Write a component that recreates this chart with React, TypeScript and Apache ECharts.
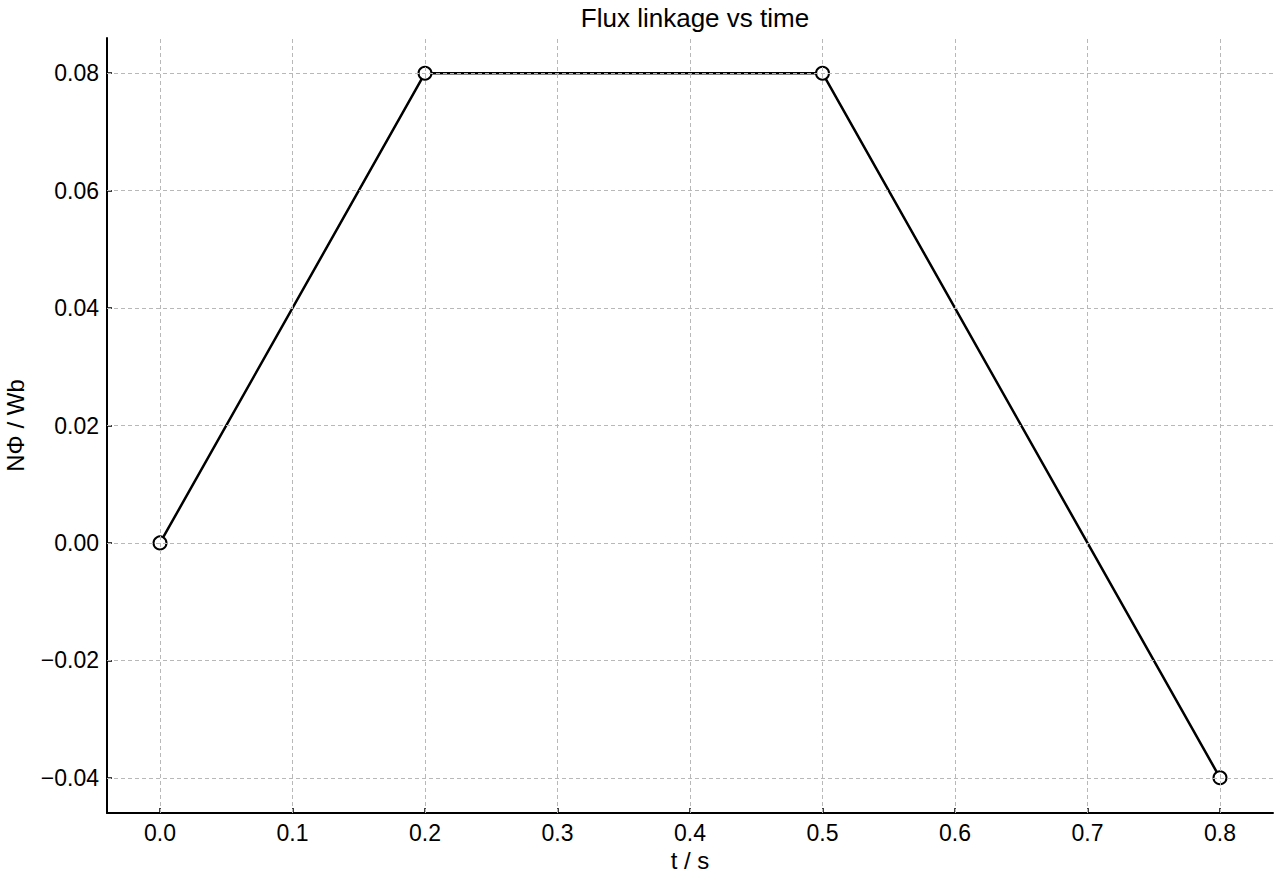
import React, { useEffect, useRef } from "react";
import * as echarts from "echarts";

const timeValues = [0.0, 0.2, 0.5, 0.8];
const fluxValues = [0.0, 0.08, 0.08, -0.04];
const xTicks = [0.0, 0.1, 0.2, 0.3, 0.4, 0.5, 0.6, 0.7, 0.8];
const yTicks = [-0.04, -0.02, 0.0, 0.02, 0.04, 0.06, 0.08];
const xRange = [-0.04, 0.84];
const yRange = [-0.046, 0.086];

const FONT = "Liberation Sans, Arial, Helvetica, sans-serif";

export default function App() {
  const ref = useRef<HTMLDivElement>(null);
  useEffect(() => {
    document.body.style.margin = "0";
    if (!ref.current) return;
    const chart = echarts.init(ref.current, undefined, { renderer: "svg" });
    const gridStyle = { color: "#b8b8b8", width: 1, type: [4, 3] as any };
    chart.setOption({
      animation: false,
      backgroundColor: "#ffffff",
      textStyle: { fontFamily: FONT },
      title: {
        text: "Flux linkage vs time",
        left: 690,
        top: 0,
        textAlign: "center",
        textStyle: { fontFamily: FONT, fontSize: 26, fontWeight: "normal", color: "#000" },
      },
      grid: { left: 107, right: 7, top: 38, bottom: 67, containLabel: false, outerBoundsMode: "none" },
      xAxis: {
        type: "value",
        min: xRange[0],
        max: xRange[1],
        name: "t / s",
        nameLocation: "middle",
        nameGap: 32,
        nameTextStyle: { fontFamily: FONT, fontSize: 24, color: "#000" },
        axisLine: { show: true, onZero: false, lineStyle: { color: "#000", width: 2 } },
        axisTick: { show: true, inside: true, length: 5, customValues: xTicks, lineStyle: { color: "#000", width: 1.5 } },
        axisLabel: {
          customValues: xTicks,
          margin: 8,
          fontFamily: FONT,
          fontSize: 23,
          color: "#000",
          formatter: (v: number) => v.toFixed(1),
        },
        splitLine: { show: false },
      },
      yAxis: {
        type: "value",
        min: yRange[0],
        max: yRange[1],
        name: "NΦ / Wb",
        nameLocation: "middle",
        nameGap: 80,
        nameRotate: 90,
        nameTextStyle: { fontFamily: FONT, fontSize: 24, color: "#000" },
        axisLine: { show: true, onZero: false, lineStyle: { color: "#000", width: 2 } },
        axisTick: { show: true, inside: true, length: 5, customValues: yTicks, lineStyle: { color: "#000", width: 1.5 } },
        axisLabel: {
          customValues: yTicks,
          margin: 8,
          fontFamily: FONT,
          fontSize: 23,
          color: "#000",
          formatter: (v: number) => v.toFixed(2).replace("-", "\u2212"),
        },
        splitLine: { show: false },
      },
      series: [
        {
          type: "line",
          name: "grid",
          data: [],
          z: 1,
          silent: true,
          markLine: {
            silent: true,
            symbol: ["none", "none"],
            label: { show: false },
            lineStyle: gridStyle,
            animation: false,
            data: [
              ...xTicks.map((x) => ({ xAxis: x })),
              ...yTicks.map((y) => ({ yAxis: y })),
            ],
          },
        },
        {
          type: "line",
          name: "flux",
          z: 3,
          data: timeValues.map((t, i) => [t, fluxValues[i]]),
          lineStyle: { color: "#000", width: 2.5 },
          symbol: "circle",
          symbolSize: 13,
          showAllSymbol: true,
          itemStyle: { color: "#fff", borderColor: "#000", borderWidth: 2 },
        },
      ],
    });
    return () => chart.dispose();
  }, []);
  return <div ref={ref} style={{ width: 1280, height: 880 }} />;
}
